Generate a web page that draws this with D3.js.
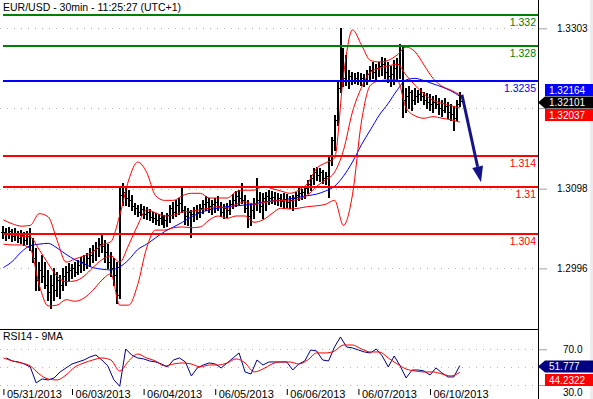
<!DOCTYPE html>
<html>
<head>
<meta charset="utf-8">
<script src="https://cdn.jsdelivr.net/npm/d3@7"></script>
<style>
body { margin: 0; background: #fff; }
svg { display: block; font-family: "Liberation Sans", Arial, sans-serif; }
</style>
</head>
<body>
<svg id="chart" width="593" height="399"></svg>
<script>
// ---------- data (1h bars) ----------
var dayLabels = ["05/31/2013", "06/03/2013", "06/04/2013", "06/05/2013", "06/06/2013", "06/07/2013", "06/10/2013"];
var dayStart = [0, 23, 47, 71, 95, 119, 143]; // index of the first bar of each day

var hi = [
  // 05/31
  1.3050, 1.3048, 1.3049, 1.3046, 1.3048, 1.3044, 1.3045, 1.3043, 1.3044, 1.3048, 1.3035, 1.3022,
  1.3004, 1.3013, 1.3004, 1.2994, 1.2988, 1.2997, 1.2991, 1.2988, 1.2997, 1.2999, 1.3003,
  // 06/03
  1.3002, 1.3004, 1.3007, 1.3011, 1.3013, 1.3016, 1.3022, 1.3026, 1.3030, 1.3035, 1.3039, 1.3032,
  1.3027, 1.3017, 1.3009, 1.3004, 1.3101, 1.3105, 1.3099, 1.3096, 1.3090, 1.3080, 1.3077, 1.3078,
  // 06/04
  1.3076, 1.3075, 1.3072, 1.3068, 1.3067, 1.3066, 1.3068, 1.3064, 1.3067, 1.3077, 1.3081, 1.3083,
  1.3086, 1.3099, 1.3076, 1.3073, 1.3071, 1.3075, 1.3077, 1.3078, 1.3083, 1.3089, 1.3086, 1.3083,
  // 06/05
  1.3086, 1.3089, 1.3081, 1.3078, 1.3080, 1.3083, 1.3091, 1.3095, 1.3096, 1.3105, 1.3090, 1.3083,
  1.3080, 1.3086, 1.3112, 1.3094, 1.3092, 1.3094, 1.3096, 1.3095, 1.3094, 1.3092, 1.3091, 1.3092,
  // 06/06
  1.3091, 1.3089, 1.3090, 1.3094, 1.3099, 1.3098, 1.3101, 1.3109, 1.3115, 1.3124, 1.3126, 1.3124,
  1.3122, 1.3119, 1.3138, 1.3164, 1.3192, 1.3234, 1.3303, 1.3278, 1.3269, 1.3250, 1.3247, 1.3246,
  // 06/07
  1.3247, 1.3246, 1.3245, 1.3250, 1.3255, 1.3260, 1.3257, 1.3260, 1.3266, 1.3265, 1.3260, 1.3255,
  1.3262, 1.3265, 1.3283, 1.3282, 1.3227, 1.3229, 1.3224, 1.3227, 1.3224, 1.3227, 1.3222, 1.3220,
  // 06/10
  1.3219, 1.3216, 1.3218, 1.3214, 1.3211, 1.3214, 1.3209, 1.3206, 1.3204, 1.3211, 1.3222
];
var lo = [
  1.3035, 1.3032, 1.3035, 1.3031, 1.3032, 1.3030, 1.3028, 1.3026, 1.3027, 1.3020, 1.3004, 1.2968,
  1.2968, 1.2979, 1.2971, 1.2956, 1.2945, 1.2956, 1.2961, 1.2958, 1.2968, 1.2975, 1.2981,
  1.2984, 1.2986, 1.2989, 1.2991, 1.2994, 1.2997, 1.2999, 1.3004, 1.3007, 1.3012, 1.3017, 1.3004,
  1.2997, 1.2986, 1.2975, 1.2952, 1.2958, 1.3077, 1.3077, 1.3076, 1.3071, 1.3066, 1.3063, 1.3064,
  1.3060, 1.3059, 1.3058, 1.3055, 1.3053, 1.3051, 1.3053, 1.3049, 1.3050, 1.3055, 1.3060, 1.3063,
  1.3066, 1.3068, 1.3053, 1.3051, 1.3036, 1.3057, 1.3059, 1.3062, 1.3067, 1.3071, 1.3068, 1.3066,
  1.3068, 1.3071, 1.3063, 1.3060, 1.3062, 1.3066, 1.3073, 1.3076, 1.3078, 1.3080, 1.3068, 1.3049,
  1.3051, 1.3060, 1.3071, 1.3068, 1.3060, 1.3071, 1.3078, 1.3080, 1.3078, 1.3077, 1.3076, 1.3073,
  1.3075, 1.3073, 1.3071, 1.3076, 1.3083, 1.3085, 1.3086, 1.3092, 1.3096, 1.3104, 1.3109, 1.3108,
  1.3105, 1.3104, 1.3087, 1.3128, 1.3147, 1.3179, 1.3222, 1.3229, 1.3230, 1.3227, 1.3232, 1.3233,
  1.3232, 1.3230, 1.3229, 1.3232, 1.3237, 1.3239, 1.3237, 1.3242, 1.3243, 1.3239, 1.3234, 1.3229,
  1.3232, 1.3237, 1.3239, 1.3190, 1.3196, 1.3201, 1.3199, 1.3206, 1.3209, 1.3211, 1.3206, 1.3201,
  1.3199, 1.3196, 1.3201, 1.3193, 1.3191, 1.3196, 1.3188, 1.3186, 1.3173, 1.3186, 1.3204
];
var cl = [
  1.3043, 1.3040, 1.3044, 1.3037, 1.3041, 1.3035, 1.3039, 1.3032, 1.3037, 1.3026, 1.3009, 1.2981,
  1.2994, 1.2986, 1.2975, 1.2966, 1.2975, 1.2968, 1.2981, 1.2975, 1.2986, 1.2991, 1.2994,
  1.2997, 1.2991, 1.3000, 1.3004, 1.3002, 1.3009, 1.3013, 1.3020, 1.3022, 1.3027, 1.3025, 1.3017,
  1.3004, 1.2997, 1.2988, 1.2962, 1.3090, 1.3094, 1.3086, 1.3083, 1.3076, 1.3073, 1.3068, 1.3072,
  1.3066, 1.3068, 1.3062, 1.3060, 1.3058, 1.3060, 1.3055, 1.3058, 1.3064, 1.3073, 1.3068, 1.3077,
  1.3080, 1.3071, 1.3063, 1.3068, 1.3066, 1.3071, 1.3068, 1.3073, 1.3078, 1.3081, 1.3076, 1.3078,
  1.3081, 1.3076, 1.3068, 1.3073, 1.3071, 1.3078, 1.3083, 1.3089, 1.3086, 1.3083, 1.3073, 1.3063,
  1.3071, 1.3078, 1.3083, 1.3076, 1.3086, 1.3089, 1.3086, 1.3087, 1.3083, 1.3086, 1.3082, 1.3085,
  1.3081, 1.3083, 1.3086, 1.3090, 1.3092, 1.3094, 1.3099, 1.3104, 1.3112, 1.3119, 1.3115, 1.3119,
  1.3112, 1.3114, 1.3135, 1.3160, 1.3186, 1.3227, 1.3262, 1.3239, 1.3237, 1.3242, 1.3237, 1.3239,
  1.3237, 1.3239, 1.3237, 1.3245, 1.3250, 1.3247, 1.3252, 1.3255, 1.3257, 1.3247, 1.3242, 1.3245,
  1.3252, 1.3257, 1.3275, 1.3211, 1.3216, 1.3222, 1.3211, 1.3216, 1.3219, 1.3216, 1.3211, 1.3209,
  1.3206, 1.3209, 1.3206, 1.3201, 1.3199, 1.3204, 1.3196, 1.3193, 1.3188, 1.3206, 1.3210
];

// indicators, one sample every 3 bars (bar 0, 3, 6 ... 153)
var bbUpper = [
  1.3058, 1.3053, 1.3050, 1.3051, 1.3066, 1.3062, 1.3032, 1.3004, 1.3008, 1.3012, 1.3017, 1.3026, 1.3030,
  1.3064, 1.3109, 1.3132, 1.3119, 1.3089, 1.3083, 1.3083, 1.3089, 1.3092, 1.3092, 1.3086, 1.3086, 1.3086,
  1.3094, 1.3096, 1.3096, 1.3101, 1.3098, 1.3095, 1.3092, 1.3096, 1.3105, 1.3124, 1.3131, 1.3137, 1.3243,
  1.3301, 1.3282, 1.3262, 1.3260, 1.3262, 1.3269, 1.3279, 1.3273, 1.3256, 1.3239, 1.3229, 1.3224, 1.3218
];
var bbMid = [
  1.3040, 1.3039, 1.3037, 1.3036, 1.3020, 1.3002, 1.2986, 1.2979, 1.2980, 1.2986, 1.2997, 1.3007, 1.3012,
  1.3004, 1.3026, 1.3051, 1.3071, 1.3067, 1.3063, 1.3064, 1.3068, 1.3069, 1.3071, 1.3073, 1.3075, 1.3073,
  1.3078, 1.3081, 1.3078, 1.3080, 1.3082, 1.3083, 1.3082, 1.3085, 1.3090, 1.3101, 1.3109, 1.3119, 1.3147,
  1.3196, 1.3227, 1.3247, 1.3252, 1.3255, 1.3257, 1.3243, 1.3230, 1.3219, 1.3211, 1.3207, 1.3204, 1.3201
];
var bbLower = [
  1.3027, 1.3026, 1.3026, 1.3021, 1.2975, 1.2948, 1.2949, 1.2956, 1.2954, 1.2958, 1.2968, 1.2981, 1.2989,
  1.2949, 1.2949, 1.2975, 1.3022, 1.3045, 1.3045, 1.3048, 1.3049, 1.3048, 1.3049, 1.3058, 1.3063, 1.3060,
  1.3063, 1.3063, 1.3055, 1.3058, 1.3066, 1.3073, 1.3072, 1.3073, 1.3075, 1.3076, 1.3078, 1.3083, 1.3051,
  1.3090, 1.3183, 1.3230, 1.3236, 1.3237, 1.3237, 1.3201, 1.3191, 1.3188, 1.3190, 1.3188, 1.3186, 1.3183
];
var maBlue = [
  1.2997, 1.3005, 1.3017, 1.3025, 1.3027, 1.3028, 1.3022, 1.3014, 1.3007, 1.3002, 1.2997, 1.2995, 1.2994,
  1.2998, 1.3007, 1.3020, 1.3027, 1.3035, 1.3043, 1.3049, 1.3055, 1.3062, 1.3067, 1.3071, 1.3073, 1.3075,
  1.3076, 1.3077, 1.3078, 1.3081, 1.3082, 1.3083, 1.3085, 1.3087, 1.3089, 1.3091, 1.3095, 1.3101, 1.3114,
  1.3132, 1.3154, 1.3173, 1.3192, 1.3207, 1.3224, 1.3237, 1.3239, 1.3236, 1.3232, 1.3228, 1.3223, 1.3216
];

// RSI(14), one sample every 2 bars (bar 1, 3 ... 153)
var rsi = [
  60.3, 56.9, 55.8, 53.5, 50.2, 32.3, 36.8, 35.6, 37.9, 44.6, 49.1, 53.5, 55.8, 58.0, 61.4, 63.6,
  58.0, 51.3, 36.0, 28.5, 70.3, 63.6, 60.3, 59.2, 56.9, 55.8, 53.5, 50.2, 58.0, 60.3, 55.8, 40.1,
  49.1, 52.4, 54.7, 53.5, 49.1, 54.7, 60.3, 65.9, 44.6, 42.3, 58.0, 52.4, 55.8, 55.8, 55.8, 55.8,
  46.8, 53.5, 56.9, 69.2, 68.1, 58.0, 56.9, 72.6, 83.8, 72.6, 71.5, 69.2, 67.0, 65.9, 70.3, 62.5,
  50.2, 62.5, 51.3, 37.9, 46.8, 46.8, 45.7, 41.2, 49.1, 43.5, 39.0, 39.0, 51.777
];
// 9-period MA of the RSI, one sample every 3 bars
var rsiMa = [
  60.3, 56.9, 54.7, 51.3, 42.3, 36.7, 35.6, 41.2, 50.2, 54.7, 58.0, 60.3, 58.0,
  45.7, 56.9, 64.7, 60.3, 56.9, 51.3, 53.5, 54.7, 53.5, 50.2, 52.4, 52.4, 54.7,
  59.2, 54.7, 44.6, 47.9, 53.5, 55.8, 55.8, 53.5, 58.0, 65.9, 65.9, 68.1, 74.8,
  74.8, 70.3, 67.0, 67.0, 60.3, 53.5, 47.9, 45.7, 44.6, 44.6, 42.3, 40.1, 44.2322
];

var levels = [1.332, 1.328, 1.3235, 1.314, 1.31, 1.304];
var priceTicks = [1.3303, 1.3201, 1.3098, 1.2996];
var rsiTicks = [70, 50, 30];
var quoteVals = [1.32164, 1.32101, 1.32037]; // ask, last, bid
var rsiLast = [51.777, 44.2322];
var arrowFrom = [153.7, 1.3218], arrowTo = [160.1, 1.3106]; // [bar, price]

// ---------- styles / layout ----------
var levelColor = ["#008000", "#008000", "#0000ff", "#ff0000", "#ff0000", "#ff0000"];
var plotR = 538, mainBottom = 329, rsiTop = 330, rsiBottom = 389;

var svg = d3.select("#chart");

var x = d3.scaleLinear().domain([-1.14, 179.2]).range([0, plotR]);
var y = d3.scaleLinear().domain([1.29185, 1.33392]).range([mainBottom, 0]);
var yr = d3.scaleLinear().domain([25.5, 91.6]).range([rsiBottom, rsiTop]);

var defs = svg.append("defs");
defs.append("clipPath").attr("id", "clipMain")
  .append("rect").attr("x", 0).attr("y", 0).attr("width", plotR).attr("height", mainBottom);
defs.append("clipPath").attr("id", "clipRsi")
  .append("rect").attr("x", 0).attr("y", rsiTop).attr("width", plotR).attr("height", rsiBottom - rsiTop);

// light strip at the far right
svg.append("rect").attr("x", 590).attr("y", 0).attr("width", 3).attr("height", 399).attr("fill", "#ececec");

// dotted grid
svg.append("g").selectAll("line").data(priceTicks).enter().append("line")
  .attr("x1", 0).attr("x2", plotR)
  .attr("y1", function(d) { return Math.round(y(d)) + 0.5; })
  .attr("y2", function(d) { return Math.round(y(d)) + 0.5; })
  .attr("stroke", "#b4b4b4").attr("stroke-dasharray", "1,6");
svg.append("g").selectAll("line").data(rsiTicks).enter().append("line")
  .attr("x1", 0).attr("x2", plotR)
  .attr("y1", function(d) { return Math.round(yr(d)) + 0.5; })
  .attr("y2", function(d) { return Math.round(yr(d)) + 0.5; })
  .attr("stroke", "#b4b4b4").attr("stroke-dasharray", "1,6");

var gMain = svg.append("g").attr("clip-path", "url(#clipMain)");

// OHLC bars (open taken as previous close)
var stemPath = "", tickPath = "";
hi.forEach(function(h, i) {
  var px = Math.round(x(i));
  var op = i > 0 ? cl[i - 1] : (h + lo[i]) / 2;
  var yh = Math.round(y(h)), yl = Math.round(y(lo[i])) + 1;
  var yo = Math.round(y(op)) + 0.5, yc = Math.round(y(cl[i])) + 0.5;
  stemPath += "M" + px + "," + yh + "V" + yl;
  tickPath += "M" + (px - 2) + "," + yo + "H" + px + "M" + px + "," + yc + "H" + (px + 2);
});
gMain.append("path").attr("d", stemPath).attr("stroke", "#000").attr("stroke-width", 2).attr("fill", "none");
gMain.append("path").attr("d", tickPath).attr("stroke", "#000").attr("fill", "none");

// moving average + bollinger bands
var bandLine = d3.line()
  .x(function(d, j) { return x(j * 3); })
  .y(function(d) { return y(d); })
  .curve(d3.curveMonotoneX);
gMain.append("path").attr("d", bandLine(maBlue)).attr("fill", "none").attr("stroke", "#0000ff");
[bbUpper, bbMid, bbLower].forEach(function(s) {
  gMain.append("path").attr("d", bandLine(s)).attr("fill", "none").attr("stroke", "#ff0000");
});

// horizontal levels
levels.forEach(function(v, i) {
  var ly = Math.round(y(v));
  gMain.append("line").attr("x1", 3).attr("x2", plotR).attr("y1", ly).attr("y2", ly)
    .attr("stroke", levelColor[i]).attr("stroke-width", 2);
  svg.append("text").attr("x", 536).attr("y", ly + 11)
    .attr("text-anchor", "end").attr("font-size", "10.5px")
    .attr("fill", levelColor[i]).text(String(v));
});

// forecast arrow
var ax1 = x(arrowFrom[0]), ay1 = y(arrowFrom[1]), ax2 = x(arrowTo[0]), ay2 = y(arrowTo[1]);
var ang = Math.atan2(ay2 - ay1, ax2 - ax1), hl = 16, hw = 5.5;
var bx = ax2 - hl * Math.cos(ang), by = ay2 - hl * Math.sin(ang);
svg.append("line").attr("x1", ax1).attr("y1", ay1).attr("x2", bx).attr("y2", by)
  .attr("stroke", "#141488").attr("stroke-width", 3);
svg.append("path")
  .attr("d", "M" + ax2 + "," + ay2 +
             "L" + (bx + hw * Math.sin(ang)) + "," + (by - hw * Math.cos(ang)) +
             "L" + (bx - hw * Math.sin(ang)) + "," + (by + hw * Math.cos(ang)) + "Z")
  .attr("fill", "#141488");

// title
svg.append("text").attr("x", 3).attr("y", 11).attr("font-size", "10.5px")
  .text("EUR/USD - 30min - 11:25:27 (UTC+1)");

// RSI panel
var gRsi = svg.append("g").attr("clip-path", "url(#clipRsi)");
var rsiLine = d3.line()
  .x(function(d, j) { return x(1 + j * 2); })
  .y(function(d) { return yr(d); });
gRsi.append("path").attr("d", rsiLine(rsi)).attr("fill", "none").attr("stroke", "#000080");
var rsiMaLine = d3.line()
  .x(function(d, j) { return x(j * 3); })
  .y(function(d) { return yr(d); })
  .curve(d3.curveMonotoneX);
gRsi.append("path").attr("d", rsiMaLine(rsiMa)).attr("fill", "none").attr("stroke", "#ff0000");
svg.append("text").attr("x", 3).attr("y", 340).attr("font-size", "10.5px").text("RSI14 - 9MA");

// panel frame
svg.append("line").attr("x1", 0).attr("x2", plotR).attr("y1", 329.5).attr("y2", 329.5).attr("stroke", "#000");
svg.append("line").attr("x1", plotR + 0.5).attr("x2", plotR + 0.5).attr("y1", 0).attr("y2", 399).attr("stroke", "#000");

// right axes; labels that sit under the quote boxes are left blank
var hiddenPrice = [1.3201], hiddenRsi = [50];
var pAxis = svg.append("g").attr("transform", "translate(" + (plotR + 1) + ",0)")
  .call(d3.axisRight(y).tickValues(priceTicks).tickSize(8).tickPadding(10)
    .tickFormat(function(d) { return hiddenPrice.indexOf(d) < 0 ? d3.format(".4f")(d) : ""; }));
var rAxis = svg.append("g").attr("transform", "translate(" + (plotR + 1) + ",0)")
  .call(d3.axisRight(yr).tickValues(rsiTicks).tickSize(8).tickPadding(16)
    .tickFormat(function(d) { return hiddenRsi.indexOf(d) < 0 ? d3.format(".1f")(d) : ""; }));
[pAxis, rAxis].forEach(function(a) {
  a.select(".domain").remove();
  a.selectAll("line").attr("stroke", "#a0a0a0");
  a.selectAll("text").attr("font-size", "10px").attr("font-family", "Liberation Sans, Arial, sans-serif").attr("fill", "#000");
});
// "30.0" sits just under the red RSI-MA box
rAxis.selectAll("text").filter(function(d) { return d === 30; }).attr("y", 7.5);

// date axis
var dAxis = svg.append("g").attr("transform", "translate(0," + rsiBottom + ")")
  .call(d3.axisBottom(x).tickValues(dayStart)
    .tickFormat(function(d, i) { return dayLabels[i]; }).tickSize(6));
dAxis.select(".domain").remove();
dAxis.selectAll("line").attr("stroke", "#000");
dAxis.selectAll("text").attr("text-anchor", "start").attr("x", 3).attr("y", 1.5)
  .attr("font-size", "11px").attr("font-family", "Liberation Sans, Arial, sans-serif").attr("fill", "#000");

// quote boxes
function box(cy, txt, color, pointer) {
  var d = pointer
    ? "M" + plotR + "," + cy + "L545," + (cy - 6) + "H593V" + (cy + 6) + "H545Z"
    : "M545," + (cy - 6) + "H593V" + (cy + 6) + "H545Z";
  svg.append("path").attr("d", d).attr("fill", color);
  svg.append("text").attr("x", 549).attr("y", cy).attr("dy", "0.35em")
    .attr("font-size", "10px").attr("fill", "#fff").text(txt);
}
var cyLast = Math.round(y(quoteVals[1])) + 1.5;
box(cyLast - 12.5, d3.format(".5f")(quoteVals[0]), "#0000ff", false);
box(cyLast + 12.5, d3.format(".5f")(quoteVals[2]), "#ff0000", false);
box(cyLast, d3.format(".5f")(quoteVals[1]), "#000", true);
var cyRsi = Math.round(yr(rsiLast[0])) + 0.5;
box(cyRsi + 13.5, String(rsiLast[1]), "#ff0000", false);
box(cyRsi, String(rsiLast[0]), "#000080", true);
</script>
</body>
</html>
